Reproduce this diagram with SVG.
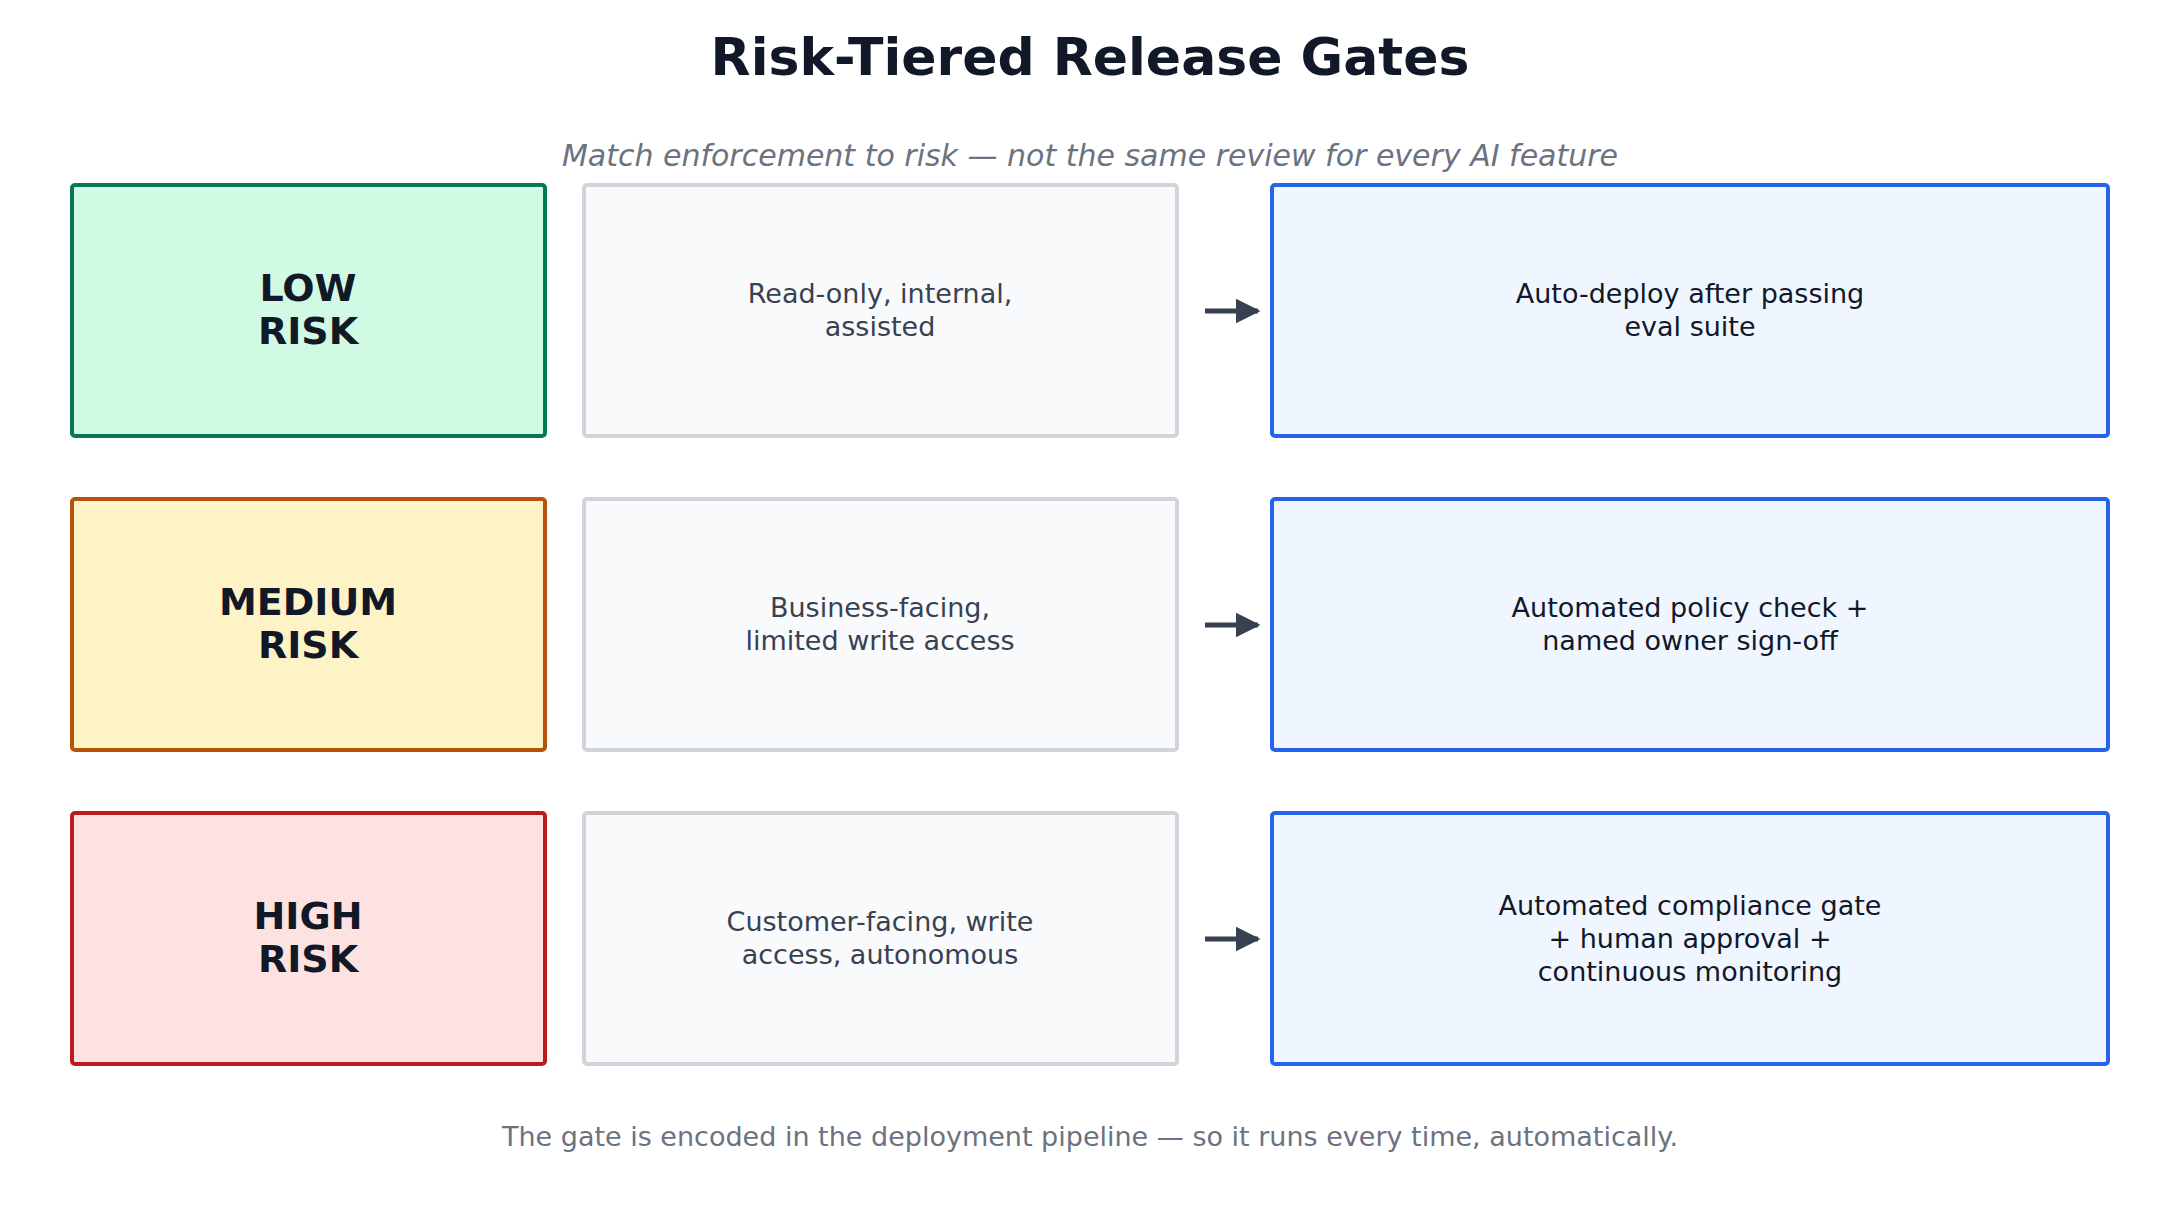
<svg xmlns="http://www.w3.org/2000/svg" width="2179" height="1220" viewBox="0 0 2179 1220">
<style>
text{font-family:"DejaVu Sans",sans-serif;text-anchor:middle}
.t{font-size:52px;font-weight:bold;fill:#111827}
.s{font-size:30px;font-style:italic;fill:#6b7280}
.f{font-size:27px;fill:#6b7280}
.r{font-size:38px;font-weight:bold;fill:#111827}
.m{font-size:27px;fill:#374151}
.g{font-size:27px;fill:#111827}
.mid{fill:#f8fafc;stroke:#d1d5db;stroke-width:4}
.gate{fill:#eff6ff;stroke:#2563eb;stroke-width:4}
.c{stroke:#374151;stroke-width:5;fill:none}
</style>
<defs><marker id="a" viewBox="0 0 10 10" refX="9" refY="5" markerWidth="5" markerHeight="5" orient="auto" markerUnits="strokeWidth"><path d="M0,0L10,5L0,10z" fill="#374151"/></marker></defs>
<rect width="2179" height="1220" fill="#fff"/>
<text class="t" x="1090" y="75">Risk-Tiered Release Gates</text>
<text class="s" x="1090" y="166">Match enforcement to risk — not the same review for every AI feature</text>
<g id="low"><rect x="72" y="185" width="473" height="251" rx="3" fill="#d1fae5" stroke="#047857" stroke-width="4"/><text class="r" x="308" y="301">LOW</text><text class="r" x="308" y="344">RISK</text></g>
<g id="low-desc"><rect class="mid" x="584" y="185" width="593" height="251" rx="3"/><text class="m" x="880" y="303">Read-only, internal,</text><text class="m" x="880" y="336">assisted</text></g>
<g id="low-gate"><rect class="gate" x="1272" y="185" width="836" height="251" rx="3"/><text class="g" x="1690" y="303">Auto-deploy after passing</text><text class="g" x="1690" y="336">eval suite</text></g>
<g id="med"><rect x="72" y="499" width="473" height="251" rx="3" fill="#fef3c7" stroke="#b45309" stroke-width="4"/><text class="r" x="308" y="615">MEDIUM</text><text class="r" x="308" y="658">RISK</text></g>
<g id="med-desc"><rect class="mid" x="584" y="499" width="593" height="251" rx="3"/><text class="m" x="880" y="617">Business-facing,</text><text class="m" x="880" y="650">limited write access</text></g>
<g id="med-gate"><rect class="gate" x="1272" y="499" width="836" height="251" rx="3"/><text class="g" x="1690" y="617">Automated policy check +</text><text class="g" x="1690" y="650">named owner sign-off</text></g>
<g id="high"><rect x="72" y="813" width="473" height="251" rx="3" fill="#fee2e2" stroke="#b91c1c" stroke-width="4"/><text class="r" x="308" y="929">HIGH</text><text class="r" x="308" y="972">RISK</text></g>
<g id="high-desc"><rect class="mid" x="584" y="813" width="593" height="251" rx="3"/><text class="m" x="880" y="931">Customer-facing, write</text><text class="m" x="880" y="964">access, autonomous</text></g>
<g id="high-gate"><rect class="gate" x="1272" y="813" width="836" height="251" rx="3"/><text class="g" x="1690" y="915">Automated compliance gate</text><text class="g" x="1690" y="948">+ human approval +</text><text class="g" x="1690" y="981">continuous monitoring</text></g>
<g id="connectors">
<line class="c" x1="1205" y1="311" x2="1258" y2="311" marker-end="url(#a)"/>
<line class="c" x1="1205" y1="625" x2="1258" y2="625" marker-end="url(#a)"/>
<line class="c" x1="1205" y1="939" x2="1258" y2="939" marker-end="url(#a)"/>
</g>
<text class="f" x="1090" y="1146">The gate is encoded in the deployment pipeline — so it runs every time, automatically.</text>
</svg>
